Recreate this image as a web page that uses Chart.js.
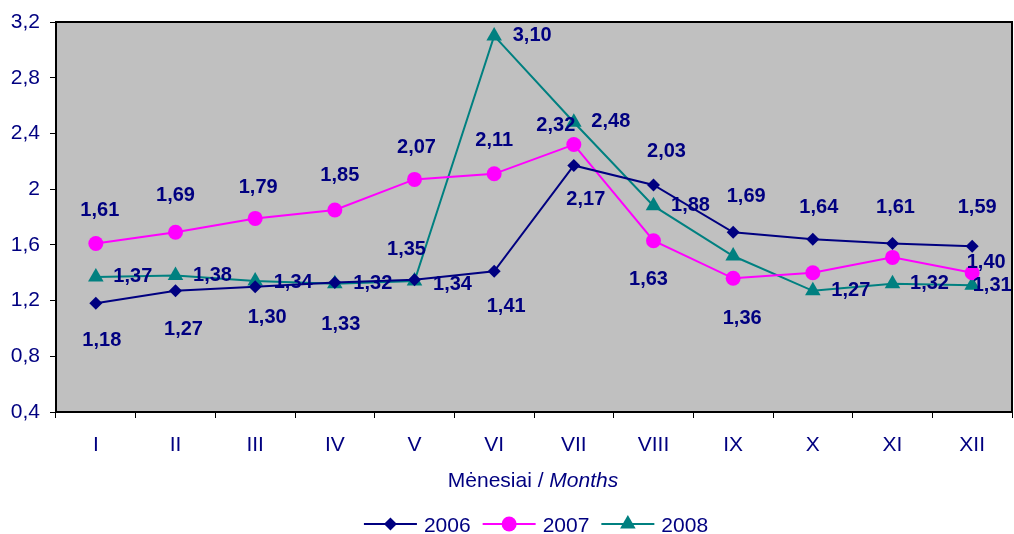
<!DOCTYPE html>
<html><head><meta charset="utf-8">
<script src="https://cdn.jsdelivr.net/npm/chart.js@4/dist/chart.umd.min.js"></script>
<style>html,body{margin:0;padding:0;background:#fff}#wrap{width:1014px;height:534px;position:relative}</style>
</head><body><div id="wrap"><canvas id="c" width="1014" height="534"></canvas></div>
<script>
// ---- data ----
const months = ['I','II','III','IV','V','VI','VII','VIII','IX','X','XI','XII'];
const seriesNames = ['2006','2007','2008'];
const values2006 = [1.18,1.27,1.30,1.33,1.35,1.41,2.17,2.03,1.69,1.64,1.61,1.59];
const values2007 = [1.61,1.69,1.79,1.85,2.07,2.11,2.32,1.63,1.36,1.40,1.51,1.40];
const values2008 = [1.37,1.38,1.34,1.32,1.34,3.10,2.48,1.88,1.52,1.27,1.32,1.31];
const yMin = 0.4, yMax = 3.2, yStep = 0.4;
const axisTitleLt = 'Mėnesiai / ';
const axisTitleEn = 'Months';

// ---- styling / label placement (offsets from the point, null = no label) ----
const labelOffsets = [
  [[6,37],[8,39],[12,31],[6,42],[-8,-30],[12,35],[12,34],[13,-33],[13,-36],[6,-32],[3,-36],[5,-39]],
  [[4,-33],[0,-37],[3,-31],[5,-35],[2,-32],[0,-33],[-18,-19],[-5,39],[9,40],null,null,[14,-10]],
  [[37,0],[37,0],[38,1],[38,0],[38,3],[38,0],[37,-1],[37,0],null,[38,0],[37,0],[20,0]]
];
const colors = ['#000080','#FF00FF','#008080'];
const styles = ['rectRot','circle','triangle'];
const radii = [6.5,7.5,9];
const FONT = "'Liberation Sans', Arial, sans-serif";
const NAVY = '#000080';

function fmtTick(v){ return String(Math.round(v*10)/10).replace('.',','); }
function fmtLabel(v){ return v.toFixed(2).replace('.',','); }

const seriesValues = [values2006, values2007, values2008];
const datasets = seriesValues.map((vals,i)=>({
  label: seriesNames[i],
  data: vals,
  borderColor: colors[i],
  backgroundColor: colors[i],
  borderWidth: 2,
  pointStyle: styles[i],
  pointRadius: radii[i],
  pointHoverRadius: radii[i],
  pointBackgroundColor: colors[i],
  pointBorderColor: colors[i],
  pointBorderWidth: 0,
  tension: 0,
  clip: false
}));

const framePlugin = {
  id: 'frame',
  beforeDraw(chart){
    const {ctx, chartArea:a} = chart;
    ctx.save();
    ctx.fillStyle = '#C0C0C0';
    ctx.fillRect(a.left, a.top, a.right-a.left, a.bottom-a.top);
    ctx.restore();
  },
  beforeDatasetsDraw(chart){
    const {ctx, chartArea:a} = chart;
    ctx.save();
    ctx.strokeStyle = '#000';
    ctx.lineWidth = 2;
    ctx.strokeRect(a.left, a.top, a.right-a.left, a.bottom-a.top);
    ctx.restore();
  },
  afterDatasetsDraw(chart){
    const ctx = chart.ctx;
    ctx.save();
    ctx.font = "bold 20px " + FONT;
    ctx.fillStyle = NAVY;
    ctx.textAlign = 'center';
    ctx.textBaseline = 'middle';
    chart.data.datasets.forEach((ds, di)=>{
      const meta = chart.getDatasetMeta(di);
      meta.data.forEach((pt, i)=>{
        const off = labelOffsets[di][i];
        if (!off) return;
        ctx.fillText(fmtLabel(ds.data[i]), pt.x + off[0], pt.y + off[1]);
      });
    });
    ctx.restore();
  },
  afterDraw(chart){
    const ctx = chart.ctx;
    ctx.save();
    // axis title
    const cx = 533;
    ctx.fillStyle = NAVY;
    ctx.textBaseline = 'alphabetic';
    ctx.font = "21px " + FONT;
    const w1 = ctx.measureText(axisTitleLt).width;
    ctx.font = "italic 21px " + FONT;
    const w2 = ctx.measureText(axisTitleEn).width;
    let x = cx - (w1+w2)/2;
    ctx.font = "21px " + FONT;
    ctx.textAlign = 'left';
    ctx.fillText(axisTitleLt, x, 487);
    ctx.font = "italic 21px " + FONT;
    ctx.fillText(axisTitleEn, x + w1, 487);
    // legend
    const lineLen = 53, gapTxt = 7, gapItem = 12;
    ctx.font = "21px " + FONT;
    const items = chart.data.datasets.map(ds=>({ds, tw: ctx.measureText(ds.label).width}));
    const total = items.reduce((s,it)=>s+lineLen+gapTxt+it.tw,0) + gapItem*(items.length-1);
    let lx = 536 - total/2;
    const ly = 524;
    items.forEach((it, i)=>{
      ctx.strokeStyle = colors[i];
      ctx.lineWidth = 2;
      ctx.beginPath(); ctx.moveTo(lx, ly); ctx.lineTo(lx+lineLen, ly); ctx.stroke();
      ctx.fillStyle = colors[i];
      Chart.helpers.drawPoint(ctx, {pointStyle: styles[i], radius: radii[i], rotation: 0, borderWidth: 0}, lx+lineLen/2, ly);
      ctx.fillStyle = NAVY;
      ctx.textBaseline = 'alphabetic';
      ctx.fillText(it.ds.label, lx+lineLen+gapTxt, 532);
      lx += lineLen + gapTxt + it.tw + gapItem;
    });
    ctx.restore();
  }
};

new Chart(document.getElementById('c'), {
  type: 'line',
  data: { labels: months, datasets },
  options: {
    responsive: false,
    animation: false,
    devicePixelRatio: 1,
    layout: { autoPadding: false, padding: { top: 22, right: 2, left: 0, bottom: 0 } },
    plugins: { legend: { display: false }, tooltip: { enabled: false } },
    scales: {
      x: {
        type: 'category',
        offset: true,
        grid: { offset: true, drawOnChartArea: false, tickLength: 6, color: '#000', lineWidth: 1 },
        border: { display: false },
        ticks: { color: NAVY, font: { family: FONT, size: 21 }, padding: 15, maxRotation: 0, autoSkip: false },
        afterFit(s){ s.height = 122; s.paddingLeft = 0; s.paddingRight = 0; }
      },
      y: {
        min: yMin, max: yMax,
        grid: { drawOnChartArea: false, tickLength: 6, color: '#000', lineWidth: 1 },
        border: { display: false },
        ticks: { stepSize: yStep, color: NAVY, font: { family: FONT, size: 21 }, padding: 10,
                 callback: v => fmtTick(v) },
        afterFit(s){ s.width = 56; s.paddingTop = 0; s.paddingBottom = 0; }
      }
    }
  },
  plugins: [framePlugin]
});
</script>
</body></html>
